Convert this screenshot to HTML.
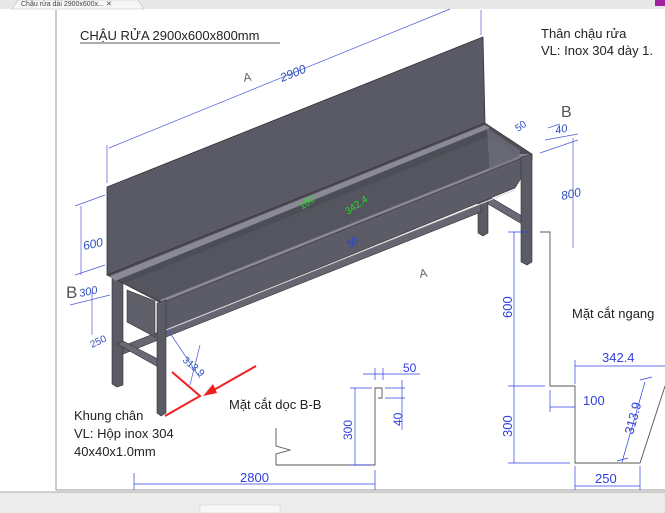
<!DOCTYPE html>
<html><head><meta charset="utf-8"><style>
html,body{margin:0;padding:0;width:665px;height:513px;overflow:hidden;background:#fff}
svg{display:block}
text{font-family:"Liberation Sans","Noto Sans CJK SC",sans-serif}
</style></head><body>
<svg width="665" height="513" viewBox="0 0 665 513" xmlns="http://www.w3.org/2000/svg">
<!-- browser chrome -->
<rect x="0" y="0" width="665" height="9" fill="#e8e8e8"/>
<path d="M12 9 L18 0 L138 0 L144 9 Z" fill="#f6f6f6" stroke="#bbb" stroke-width="0.6"/>
<text x="21" y="6" font-size="7" fill="#444">Chậu rửa dài 2900x600x...  ✕</text>
<rect x="655" y="0" width="10" height="6" fill="#a020a0"/>
<rect x="0" y="492" width="665" height="21" fill="#ececec"/>
<line x1="0" y1="492" x2="665" y2="492" stroke="#aaa"/>
<rect x="200" y="505" width="80" height="8" fill="#f8f8f8" stroke="#ccc" stroke-width="0.5"/>
<line x1="56" y1="10" x2="56" y2="490" stroke="#999"/>
<line x1="56" y1="490" x2="665" y2="490" stroke="#999"/>

<text x="80" y="40" font-size="13" fill="#222">CHẬU RỬA 2900x600x800mm</text>
<line x1="80" y1="43" x2="280" y2="43" stroke="#222" stroke-width="0.8"/>
<text x="541" y="38" font-size="13" fill="#222">Thân chậu rửa</text>
<text x="541" y="55" font-size="13" fill="#222">VL: Inox 304 dày 1.</text>

<!-- legs back -->
<polygon points="112,278 123,275 123,385 117,387 112,384" fill="#5b5b66" stroke="#333" stroke-width="0.6"/>
<polygon points="478,170 488,167 488,233 483,236 478,233" fill="#5b5b66" stroke="#333" stroke-width="0.6"/>
<!-- stretchers -->
<polygon points="123,346 481,204 481,212 123,354" fill="#666672" stroke="#333" stroke-width="0.6"/>
<polygon points="117,344 123,341 160,360 160,368" fill="#6a6a76" stroke="#333" stroke-width="0.6"/>
<polygon points="488,196 522,216 522,224 488,204" fill="#6a6a76" stroke="#333" stroke-width="0.6"/>
<!-- backsplash -->
<polygon points="107,187 483,37 485,123 107,275" fill="#5a5a66" stroke="#333" stroke-width="0.8"/>
<!-- sink interior -->
<polygon points="107,275 485,123 532,154 161,303" fill="#4d4d58" stroke="#333" stroke-width="0.6"/>
<polygon points="110,276 485,125 490,128 115,281" fill="#8a8a96"/>
<polygon points="160,298 520,154 532,154 161,303" fill="#8a8a96"/>
<polygon points="125,283 487,137 520,156 160,300" fill="#55555f"/>
<polygon points="487,128 520,150 520,160 490,180" fill="#777782" opacity="0.6"/>
<!-- basin front face -->
<polygon points="161,303 532,154 532,160 515,188 161,332" fill="#5c5c68" stroke="#333" stroke-width="0.6"/>
<polygon points="127,290 155,301 155,337 127,322" fill="#60606b" stroke="#333" stroke-width="0.6"/>
<line x1="161" y1="332" x2="515" y2="190" stroke="#ddd" stroke-width="1"/>
<!-- front legs -->
<polygon points="157,303 166,300 166,413 161,416 157,413" fill="#5b5b66" stroke="#333" stroke-width="0.6"/>
<polygon points="521,157 532,154 532,262 527,265 521,262" fill="#5b5b66" stroke="#333" stroke-width="0.6"/>

<!-- dimensions iso -->
<g stroke="#4a5cd8" stroke-width="0.7" fill="none">
<line x1="109" y1="148" x2="450" y2="9"/>
<line x1="107" y1="183" x2="107" y2="145"/>
<line x1="481" y1="35" x2="481" y2="10"/>
<line x1="81" y1="206" x2="81" y2="275"/>
<line x1="75" y1="206" x2="105" y2="195"/>
<line x1="75" y1="275" x2="105" y2="265"/>
<line x1="573" y1="138" x2="573" y2="248"/>
<line x1="545" y1="140" x2="578" y2="134"/>
<line x1="548" y1="128" x2="560" y2="124"/>
<line x1="540" y1="153" x2="578" y2="140"/>
<line x1="92" y1="292" x2="92" y2="335"/>
<line x1="70" y1="305" x2="110" y2="295"/>
<line x1="168" y1="330" x2="200" y2="378"/>
<line x1="200" y1="345" x2="190" y2="385"/>
</g>
<text transform="translate(282,82) rotate(-22)" font-size="12" font-style="italic" fill="#3050c0">2900</text>
<text transform="translate(244,82) rotate(-10)" font-size="12" fill="#666">A</text>
<text transform="translate(420,278) rotate(-10)" font-size="12" fill="#666">A</text>
<text transform="translate(84,250) rotate(-12)" font-size="12" font-style="italic" fill="#3050c0">600</text>
<text transform="translate(562,200) rotate(-12)" font-size="12" font-style="italic" fill="#3050c0">800</text>
<text transform="translate(556,134) rotate(-12)" font-size="11" font-style="italic" fill="#3050c0">40</text>
<text x="561" y="117" font-size="16" fill="#555">B</text>
<text transform="translate(518,132) rotate(-35)" font-size="10" fill="#3050c0">50</text>
<text x="66" y="298" font-size="17" fill="#555">B</text>
<text transform="translate(80,297) rotate(-12)" font-size="11" font-style="italic" fill="#3050c0">300</text>
<text transform="translate(92,348) rotate(-25)" font-size="10" fill="#3050c0">250</text>
<text transform="translate(182,361) rotate(40)" font-size="10" fill="#3050c0">313.9</text>
<text transform="translate(302,210) rotate(-35)" font-size="10" fill="#22dd22">100</text>
<text transform="translate(348,215) rotate(-35)" font-size="10" fill="#22dd22">342.4</text>
<text transform="translate(350,248) rotate(-35)" font-size="10" fill="#2040e0">50</text>

<!-- red section marker -->
<polyline points="172,372 200,396 165,416" fill="none" stroke="#f02020" stroke-width="2"/>
<line x1="256" y1="366" x2="212" y2="391" stroke="#f02020" stroke-width="2"/>
<polygon points="203,396 213,384 217,393" fill="#f02020"/>

<text x="74" y="420" font-size="13" fill="#222">Khung chân</text>
<text x="74" y="438" font-size="13" fill="#222">VL: Hộp inox 304</text>
<text x="74" y="456" font-size="13" fill="#222">40x40x1.0mm</text>

<!-- section B-B -->
<text x="229" y="409" font-size="13" fill="#222">Mặt cắt dọc B-B</text>
<g stroke="#555" stroke-width="0.9" fill="none">
<polyline points="276,465 375,465 375,388 382,388 382,398 378,398"/>
<polyline points="276,428 276,446 290,450 276,454 276,465"/>
</g>
<g stroke="#3040e0" stroke-width="0.7" fill="none">
<line x1="355" y1="388" x2="355" y2="465"/><line x1="350" y1="388" x2="372" y2="388"/><line x1="350" y1="465" x2="372" y2="465"/>
<line x1="402" y1="380" x2="402" y2="430"/><line x1="385" y1="388" x2="405" y2="388"/><line x1="385" y1="398" x2="405" y2="398"/>
<line x1="363" y1="374" x2="420" y2="374"/><line x1="375" y1="368" x2="375" y2="380"/><line x1="383" y1="368" x2="383" y2="380"/>
<line x1="134" y1="484" x2="375" y2="484"/><line x1="134" y1="473" x2="134" y2="490"/><line x1="375" y1="470" x2="375" y2="490"/>
</g>
<text transform="translate(352,440) rotate(-90)" font-size="12" fill="#3040e0">300</text>
<text transform="translate(402,426) rotate(-90)" font-size="12" fill="#3040e0">40</text>
<text x="403" y="372" font-size="12" fill="#3040e0">50</text>
<text x="240" y="482" font-size="13" fill="#3040e0">2800</text>

<!-- cross section -->
<text x="572" y="318" font-size="13" fill="#222">Mặt cắt ngang</text>
<polyline points="540,232 550,232 550,386 575,386 575,463 640,463 665,386" fill="none" stroke="#555" stroke-width="0.9"/>
<g stroke="#3040e0" stroke-width="0.7" fill="none">
<line x1="514" y1="232" x2="514" y2="463"/>
<line x1="508" y1="232" x2="530" y2="232"/><line x1="508" y1="386" x2="545" y2="386"/><line x1="508" y1="463" x2="570" y2="463"/>
<line x1="575" y1="366" x2="665" y2="366"/><line x1="575" y1="360" x2="575" y2="384"/>
<line x1="550" y1="407" x2="575" y2="407"/><line x1="550" y1="390" x2="550" y2="412"/>
<line x1="622" y1="462" x2="645" y2="382"/><line x1="640" y1="380" x2="652" y2="377"/><line x1="617" y1="461" x2="628" y2="458"/>
<line x1="575" y1="486" x2="640" y2="486"/><line x1="575" y1="466" x2="575" y2="490"/><line x1="640" y1="466" x2="640" y2="490"/>
</g>
<text transform="translate(512,318) rotate(-90)" font-size="13" fill="#3040e0">600</text>
<text transform="translate(512,437) rotate(-90)" font-size="13" fill="#3040e0">300</text>
<text x="602" y="362" font-size="13" fill="#3040e0">342.4</text>
<text x="583" y="405" font-size="13" fill="#3040e0">100</text>
<text transform="translate(633,435) rotate(-75)" font-size="13" fill="#3040e0">313.9</text>
<text x="595" y="483" font-size="13" fill="#3040e0">250</text>
</svg>
</body></html>
